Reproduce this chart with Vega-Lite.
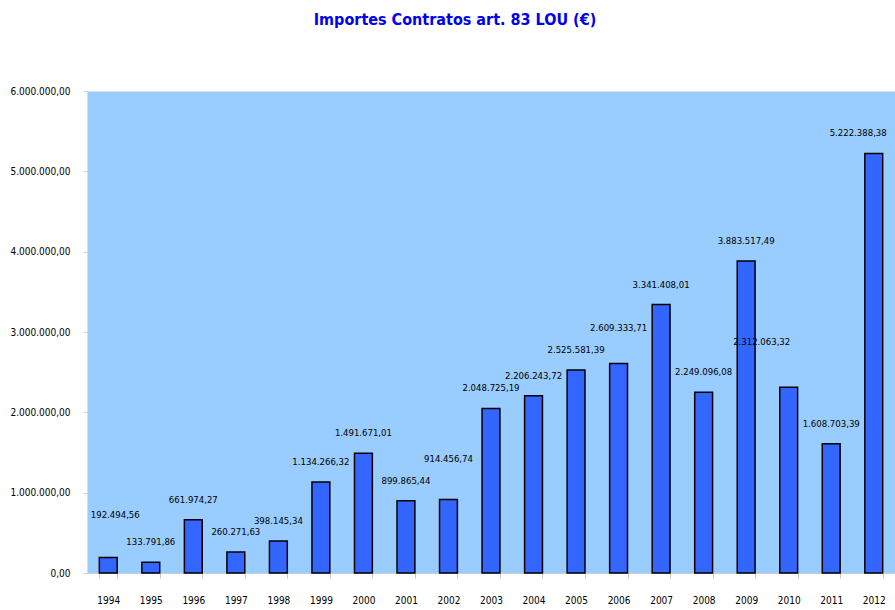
{
  "$schema": "https://vega.github.io/schema/vega-lite/v6.json",
  "autosize": {"type": "none"},
  "padding": {"left": 87, "top": 91, "right": 0, "bottom": 37},
  "width": 808,
  "height": 482,
  "config": {
    "locale": {"number": {"decimal": ",", "thousands": ".", "grouping": [3], "currency": ["", "€"]}},
    "view": {"fill": "#99CCFF", "stroke": "#d8dde6", "strokeWidth": 1},
    "font": "DejaVu Sans Condensed, Liberation Sans, sans-serif"
  },
  "title": {
    "text": "Importes Contratos art. 83 LOU (€)",
    "color": "#0000F0",
    "font": "DejaVu Sans Condensed, Liberation Sans, sans-serif",
    "fontSize": 16,
    "fontWeight": "bold",
    "offset": 58,
    "dx": -36,
    "anchor": "middle"
  },
  "data": {
    "values": [
      {"year": "1994", "value": 192494.56},
      {"year": "1995", "value": 133791.86},
      {"year": "1996", "value": 661974.27},
      {"year": "1997", "value": 260271.63},
      {"year": "1998", "value": 398145.34},
      {"year": "1999", "value": 1134266.32},
      {"year": "2000", "value": 1491671.01},
      {"year": "2001", "value": 899865.44},
      {"year": "2002", "value": 914456.74},
      {"year": "2003", "value": 2048725.19},
      {"year": "2004", "value": 2206243.72},
      {"year": "2005", "value": 2525581.39},
      {"year": "2006", "value": 2609333.71},
      {"year": "2007", "value": 3341408.01},
      {"year": "2008", "value": 2249096.08},
      {"year": "2009", "value": 3883517.49},
      {"year": "2010", "value": 2312063.32},
      {"year": "2011", "value": 1608703.39},
      {"year": "2012", "value": 5222388.38}
    ]
  },
  "encoding": {
    "x": {
      "field": "year", "type": "ordinal", "title": null,
      "scale": {"paddingInner": 0.58, "paddingOuter": 0.29},
      "axis": {
        "labelAngle": 0, "labelFontSize": 10, "labelColor": "#000", "labelPadding": 17,
        "tickBand": "extent", "tickColor": "#c8c8c8", "tickSize": 5,
        "domainColor": "#c8d0dc", "labelFont": "DejaVu Sans Condensed, Liberation Sans, sans-serif"
      }
    },
    "y": {
      "field": "value", "type": "quantitative", "title": null,
      "scale": {"domain": [0, 6000000], "nice": false},
      "axis": {
        "values": [0, 1000000, 2000000, 3000000, 4000000, 5000000, 6000000],
        "format": ",.2f", "grid": false, "domain": false,
        "labelFontSize": 10, "labelColor": "#000", "labelPadding": 13,
        "tickColor": "#d0d0d0", "tickSize": 4, "labelFont": "DejaVu Sans Condensed, Liberation Sans, sans-serif"
      }
    }
  },
  "layer": [
    {
      "mark": {"type": "bar", "color": "#3366FF", "stroke": "#000", "strokeWidth": 1.5}
    },
    {
      "transform": [{"filter": "indexof(['1994','2002','2006','2010','2012'], datum.year) < 0"}],
      "mark": {"type": "text", "dy": -20, "fontSize": 9.5, "color": "#000", "baseline": "middle"},
      "encoding": {"text": {"field": "value", "type": "quantitative", "format": ",.2f"}}
    },
    {
      "transform": [{"filter": "datum.year == '2012'"}],
      "mark": {"type": "text", "dy": -20, "dx": 13, "align": "right", "fontSize": 9.5, "color": "#000", "baseline": "middle"},
      "encoding": {"text": {"field": "value", "type": "quantitative", "format": ",.2f"}}
    },
    {
      "transform": [{"filter": "datum.year == '1994'"}],
      "mark": {"type": "text", "dy": -43, "dx": 7, "fontSize": 9.5, "color": "#000", "baseline": "middle"},
      "encoding": {"text": {"field": "value", "type": "quantitative", "format": ",.2f"}}
    },
    {
      "transform": [{"filter": "datum.year == '2002'"}],
      "mark": {"type": "text", "dy": -41, "fontSize": 9.5, "color": "#000", "baseline": "middle"},
      "encoding": {"text": {"field": "value", "type": "quantitative", "format": ",.2f"}}
    },
    {
      "transform": [{"filter": "datum.year == '2006'"}],
      "mark": {"type": "text", "dy": -35, "fontSize": 9.5, "color": "#000", "baseline": "middle"},
      "encoding": {"text": {"field": "value", "type": "quantitative", "format": ",.2f"}}
    },
    {
      "transform": [{"filter": "datum.year == '2010'"}],
      "mark": {"type": "text", "dy": -45, "dx": -27, "fontSize": 9.5, "color": "#000", "baseline": "middle"},
      "encoding": {"text": {"field": "value", "type": "quantitative", "format": ",.2f"}}
    }
  ]
}
